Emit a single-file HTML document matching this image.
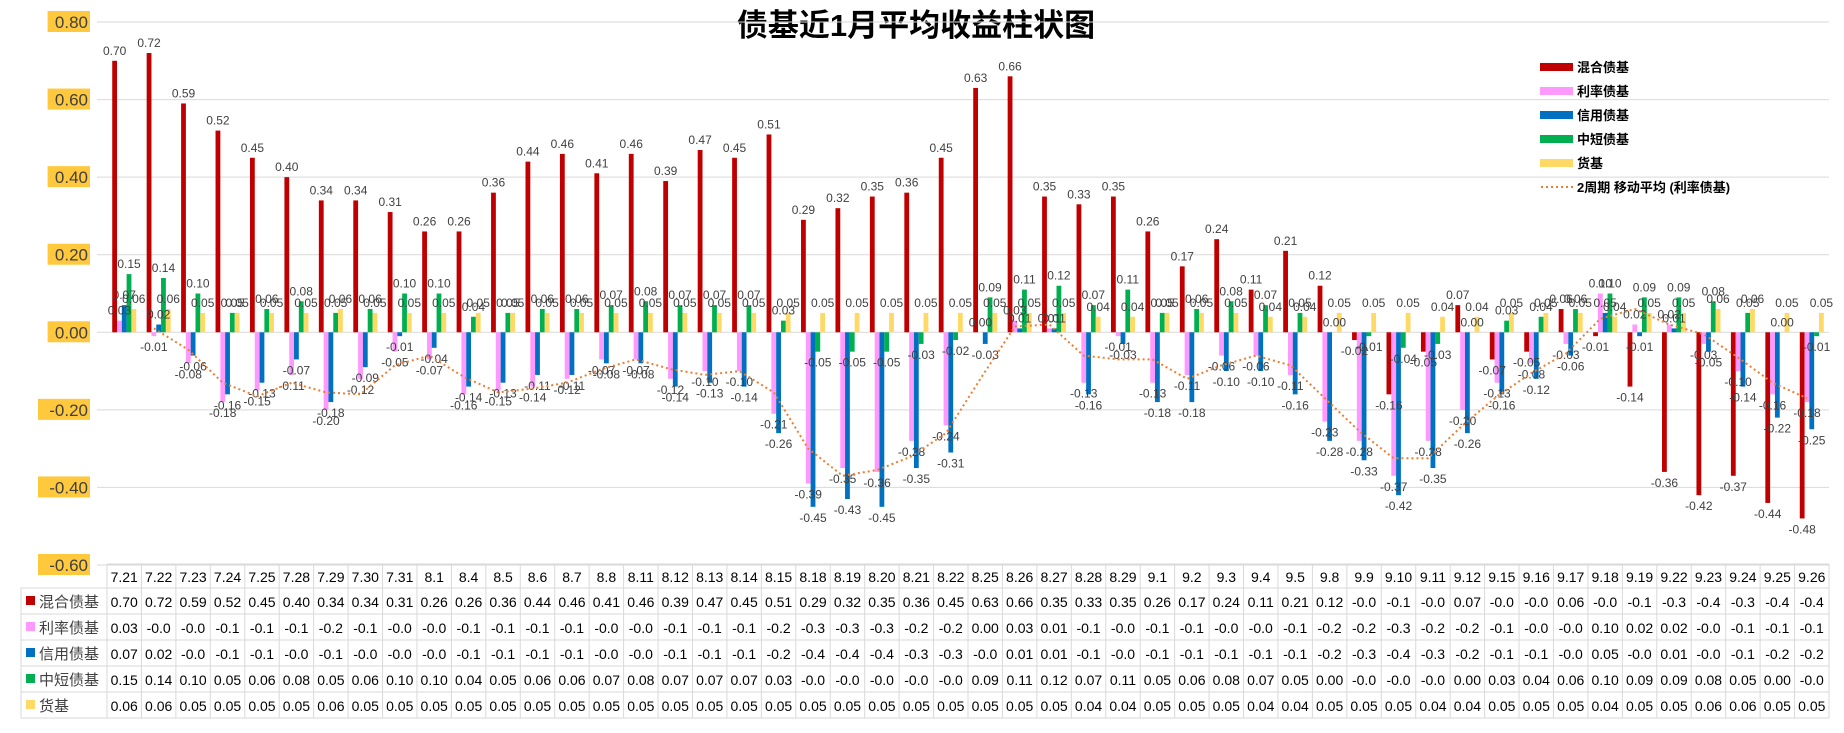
<!DOCTYPE html>
<html><head><meta charset="utf-8"><style>
body{margin:0;background:#fff;}
svg{display:block;font-family:"Liberation Sans","Noto Sans CJK SC",sans-serif;}
</style></head><body>
<svg id="chart" width="1844" height="733" viewBox="0 0 1844 733" xmlns="http://www.w3.org/2000/svg">
<text x="916" y="36" text-anchor="middle" font-size="31" font-weight="bold" fill="#000" font-family="'Liberation Sans','Noto Sans CJK SC',sans-serif">债基近1月平均收益柱状图</text>
<g id="grid"></g>
<g id="yaxis"></g>
<g id="bars"></g>
<g id="labels"></g>
<g id="trend"></g>
<g id="legend"></g>
<g id="table"></g>
</svg>
<script>
const categories=["7.21","7.22","7.23","7.24","7.25","7.28","7.29","7.30","7.31","8.1","8.4","8.5","8.6","8.7","8.8","8.11","8.12","8.13","8.14","8.15","8.18","8.19","8.20","8.21","8.22","8.25","8.26","8.27","8.28","8.29","9.1","9.2","9.3","9.4","9.5","9.8","9.9","9.10","9.11","9.12","9.15","9.16","9.17","9.18","9.19","9.22","9.23","9.24","9.25","9.26"];
const seriesNames=["混合债基","利率债基","信用债基","中短债基","货基"];
const hybrid=[0.70,0.72,0.59,0.52,0.45,0.40,0.34,0.34,0.31,0.26,0.26,0.36,0.44,0.46,0.41,0.46,0.39,0.47,0.45,0.51,0.29,0.32,0.35,0.36,0.45,0.63,0.66,0.35,0.33,0.35,0.26,0.17,0.24,0.11,0.21,0.12,-0.02,-0.16,-0.05,0.07,-0.07,-0.05,0.06,-0.01,-0.14,-0.36,-0.42,-0.37,-0.44,-0.48];
const rate=[0.03,-0.01,-0.08,-0.18,-0.15,-0.11,-0.20,-0.12,-0.05,-0.07,-0.16,-0.15,-0.14,-0.12,-0.07,-0.07,-0.12,-0.10,-0.10,-0.21,-0.39,-0.35,-0.36,-0.28,-0.24,0.00,0.03,0.01,-0.13,-0.01,-0.13,-0.11,-0.06,-0.06,-0.11,-0.23,-0.28,-0.37,-0.28,-0.20,-0.13,-0.08,-0.03,0.10,0.02,0.02,-0.03,-0.10,-0.16,-0.18];
const credit=[0.07,0.02,-0.06,-0.16,-0.13,-0.07,-0.18,-0.09,-0.01,-0.04,-0.14,-0.13,-0.11,-0.11,-0.08,-0.08,-0.14,-0.13,-0.14,-0.26,-0.45,-0.43,-0.45,-0.35,-0.31,-0.03,0.01,0.01,-0.16,-0.03,-0.18,-0.18,-0.10,-0.10,-0.16,-0.28,-0.33,-0.42,-0.35,-0.26,-0.16,-0.12,-0.06,0.05,-0.01,0.01,-0.05,-0.14,-0.22,-0.25];
const shortTerm=[0.15,0.14,0.10,0.05,0.06,0.08,0.05,0.06,0.10,0.10,0.04,0.05,0.06,0.06,0.07,0.08,0.07,0.07,0.07,0.03,-0.05,-0.05,-0.05,-0.03,-0.02,0.09,0.11,0.12,0.07,0.11,0.05,0.06,0.08,0.07,0.05,0.00,-0.01,-0.04,-0.03,0.00,0.03,0.04,0.06,0.10,0.09,0.09,0.08,0.05,0.00,-0.01];
const money=[0.06,0.06,0.05,0.05,0.05,0.05,0.06,0.05,0.05,0.05,0.05,0.05,0.05,0.05,0.05,0.05,0.05,0.05,0.05,0.05,0.05,0.05,0.05,0.05,0.05,0.05,0.05,0.05,0.04,0.04,0.05,0.05,0.05,0.04,0.04,0.05,0.05,0.05,0.04,0.04,0.05,0.05,0.05,0.04,0.05,0.05,0.06,0.06,0.05,0.05];
const yTicks=[0.80,0.60,0.40,0.20,0.00,-0.20,-0.40,-0.60];
const legendLabels=["混合债基","利率债基","信用债基","中短债基","货基","2周期 移动平均 (利率债基)"];

const NS="http://www.w3.org/2000/svg";
const colors=["#C00000","#FF99FF","#0070C0","#00B050","#FFD966"];
const series=[hybrid,rate,credit,shortTerm,money];
const plotL=107,plotR=1829,yMax=0.8,yMin=-0.6,yTop=22,yBot=565;
const catW=(plotR-plotL)/categories.length;
function y(v){return yTop+(yMax-v)/(yMax-yMin)*(yBot-yTop);}
function xc(i){return plotL+catW*(i+0.5);}
function mk(tag,attrs,parent){const e=document.createElementNS(NS,tag);for(const k in attrs)e.setAttribute(k,attrs[k]);parent.appendChild(e);return e;}
const G=id=>document.getElementById(id);

yTicks.forEach(t=>{
  const l=mk('line',{x1:plotL-10,x2:plotR,y1:y(t),y2:y(t),stroke:'#d9d9d9','stroke-width':1},G('grid'));
  
  
  const s=t.toFixed(2);
  const bw=s.length*9.6+4;
  const r=mk('rect',{x:90-bw,y:y(t)-11,width:bw,height:21,fill:'#FFC83D'},G('yaxis'));
  
  
  const tx=mk('text',{x:88,y:y(t)+6,'text-anchor':'end','font-size':17,fill:'#404040'},G('yaxis'));
  tx.textContent=s;
  
  
});

const bw=4.8;
series.forEach((arr,si)=>{
  arr.forEach((v,i)=>{
    const x=xc(i)-2.5*bw+si*bw;
    const y0=y(0),y1=y(v);
    const r=mk('rect',{x:x,y:Math.min(y0,y1),width:bw,height:Math.max(Math.abs(y1-y0),0.01),fill:colors[si]},G('bars'));
    
    
    const ty=v>=0?y1-6:y1+15;
    const t=mk('text',{x:x+bw/2,y:ty,'text-anchor':'middle','font-size':12,fill:'#404040'},G('labels'));
    t.textContent=v.toFixed(2);
    
    
  });
});

let pts=[];
for(let i=1;i<rate.length;i++){pts.push((xc(i)-1.5*bw+bw/2).toFixed(1)+','+y((rate[i-1]+rate[i])/2).toFixed(1));}
const pl=mk('polyline',{points:pts.join(' '),fill:'none',stroke:'#ED7D31','stroke-width':2,'stroke-dasharray':'2,3'},G('trend'));



legendLabels.forEach((s,i)=>{
  const ly=67+i*24;
  if(i<5){
    const r=mk('rect',{x:1540,y:ly-4,width:33,height:8,fill:colors[i]},G('legend'));
    
    
  }else{
    const l=mk('line',{x1:1541,x2:1573,y1:ly,y2:ly,stroke:'#ED7D31','stroke-width':2,'stroke-dasharray':'2,3'},G('legend'));
    
    
  }
  const t=mk('text',{x:1577,y:ly+5,'font-size':13,'font-weight':'bold',fill:'#000'},G('legend'));
  t.textContent=s;
  
  
});

function fmt(v){if(v>=0)return v.toFixed(2);const d=Math.floor(Math.abs(v)*10+1e-9);return '-0.'+d;}
const hTop=564,hH=24,rH=26,labL=21;
const tb=G('table');
const bc='#d9d9d9';
mk('line',{x1:plotL,x2:plotR,y1:hTop,y2:hTop,stroke:bc},tb);
for(let r=0;r<=5;r++){const yy=hTop+hH+r*rH;mk('line',{x1:labL,x2:plotR,y1:yy,y2:yy,stroke:bc},tb);}
mk('line',{x1:labL,x2:labL,y1:hTop+hH,y2:hTop+hH+5*rH,stroke:bc},tb);
for(let i=0;i<=categories.length;i++){const xx=plotL+i*catW;mk('line',{x1:xx,x2:xx,y1:hTop,y2:hTop+hH+5*rH,stroke:bc},tb);}
categories.forEach((c,i)=>{
  const t=mk('text',{x:xc(i),y:hTop+18,'text-anchor':'middle','font-size':14,fill:'#000'},tb);
  t.textContent=c;
  
  
});
series.forEach((arr,si)=>{
  const ry=hTop+hH+si*rH;
  const sw=mk('rect',{x:26,y:ry+8,width:9,height:9,fill:colors[si]},tb);
  
  
  const n=mk('text',{x:39,y:ry+19,'font-size':15,fill:'#404040'},tb);
  n.textContent=seriesNames[si];
  
  
  arr.forEach((v,i)=>{
    const t=mk('text',{x:xc(i),y:ry+19,'text-anchor':'middle','font-size':14,fill:'#000'},tb);
    t.textContent=fmt(v);
    
    
  });
});
</script>
</body></html>
